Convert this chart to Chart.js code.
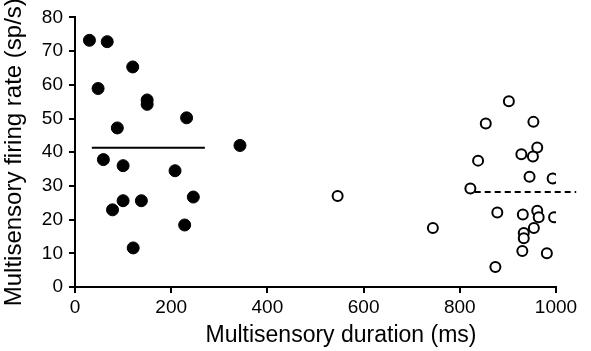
<!DOCTYPE html>
<html>
<head>
<meta charset="utf-8">
<script src="https://cdn.jsdelivr.net/npm/chart.js@4"></script>
<style>
  html, body { margin: 0; padding: 0; background: #fff; }
  #wrap { width: 591px; height: 351px; }
</style>
</head>
<body>
<div id="wrap"><canvas id="grafico" width="591" height="351"></canvas></div>
<script>
// curta duracao (pontos cheios)
const curtaX = [30, 67, 120, 48, 150, 150, 232, 88, 343, 59, 100, 208, 246, 100, 138, 78, 228, 121];
const curtaY = [73.2, 72.8, 65.3, 58.9, 55.5, 54.2, 50.2, 47.2, 42, 37.8, 36, 34.5, 26.7, 25.6, 25.6, 22.9, 18.4, 11.6];

// longa duracao (pontos vazados)
const longaX = [546, 744, 902, 854, 953, 961, 928, 952, 838, 945, 993, 822, 878, 931, 961, 964, 996, 954, 933, 933, 930, 981, 874];
const longaY = [27, 17.5, 55.1, 48.5, 49, 41.4, 39.4, 38.7, 37.5, 32.7, 32.2, 29.2, 22.1, 21.5, 22.6, 20.7, 20.7, 17.5, 16, 14.5, 10.7, 10, 5.9];

// medias
const mediaCurtaX = [35, 270];
const mediaCurtaY = 41.3;
const mediaLongaX = [831, 1042];
const mediaLongaY = 28.2;

const xTicks = [0, 200, 400, 600, 800, 1000];
const yTicks = [0, 10, 20, 30, 40, 50, 60, 70, 80];

const fonte = "'Liberation Sans', Arial, sans-serif";

const pontos = (xs, ys) => xs.map((x, i) => ({ x, y: ys[i] }));

const tituloX = {
  id: "tituloX",
  afterDraw(chart) {
    const ctx = chart.ctx;
    ctx.save();
    ctx.font = "23px " + fonte;
    ctx.fillStyle = "#000";
    ctx.textAlign = "center";
    ctx.textBaseline = "alphabetic";
    ctx.fillText("Multisensory duration (ms)", 341, 342);
    ctx.restore();
  }
};

new Chart(document.getElementById("grafico"), {
  type: "scatter",
  data: {
    datasets: [
      {
        data: pontos(curtaX, curtaY),
        pointStyle: "circle",
        pointRadius: 6,
        pointBackgroundColor: "#000",
        pointBorderColor: "#000",
        pointBorderWidth: 1
      },
      {
        data: pontos(longaX, longaY),
        pointStyle: "circle",
        pointRadius: 5,
        pointBackgroundColor: "#fff",
        pointBorderColor: "#000",
        pointBorderWidth: 2
      },
      {
        type: "line",
        data: mediaCurtaX.map(x => ({ x, y: mediaCurtaY })),
        borderColor: "#000",
        borderWidth: 2,
        pointRadius: 0,
        clip: false
      },
      {
        type: "line",
        data: mediaLongaX.map(x => ({ x, y: mediaLongaY })),
        borderColor: "#000",
        borderWidth: 2,
        borderDash: [6, 4],
        pointRadius: 0,
        clip: false
      }
    ]
  },
  options: {
    responsive: false,
    animation: false,
    layout: { padding: { top: 14, right: 35, left: 0, bottom: 0 } },
    plugins: {
      legend: { display: false },
      tooltip: { enabled: false }
    },
    scales: {
      x: {
        type: "linear",
        min: 0,
        max: 1000,
        afterBuildTicks: s => { s.ticks = xTicks.map(v => ({ value: v })); },
        afterFit: s => { s.height = 64; },
        border: { display: true, color: "#000", width: 2 },
        grid: { drawOnChartArea: false, drawTicks: true, tickLength: 6, color: "#000", lineWidth: 2 },
        ticks: {
          color: "#000",
          font: { family: fonte, size: 19 },
          padding: 3,
          maxRotation: 0,
          callback: v => String(v)
        },
        title: { display: false }
      },
      y: {
        min: 0,
        max: 80,
        afterBuildTicks: s => { s.ticks = yTicks.map(v => ({ value: v })); },
        afterFit: s => { s.width = 75; },
        border: { display: true, color: "#000", width: 2 },
        grid: { drawOnChartArea: false, drawTicks: true, tickLength: 6, color: "#000", lineWidth: 2 },
        ticks: { color: "#000", font: { family: fonte, size: 19 }, padding: 6, callback: v => String(v) },
        title: {
          display: true,
          text: "Multisensory firing rate (sp/s)",
          color: "#000",
          font: { family: fonte, size: 24 },
          padding: { top: 0, bottom: 0 }
        }
      }
    }
  },
  plugins: [tituloX]
});
</script>
</body>
</html>
